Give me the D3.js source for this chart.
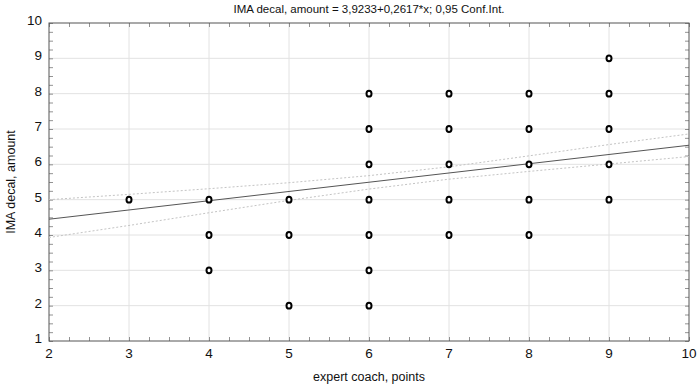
<!DOCTYPE html>
<html>
<head>
<meta charset="utf-8">
<script src="https://cdn.jsdelivr.net/npm/d3@7"></script>
<style>
  body { margin: 0; background: #fff; }
  text { font-family: "Liberation Sans", Arial, sans-serif; fill: #111; }
</style>
</head>
<body>
<div id="chart"></div>
<script>
// scatter data: expert coach points vs IMA decal amount
let xValues = [3, 4, 4, 4, 5, 5, 5, 6, 6, 6, 6, 6, 6, 6, 7, 7, 7, 7, 7, 8, 8, 8, 8, 8, 9, 9, 9, 9, 9];
let yValues = [5, 5, 4, 3, 5, 4, 2, 8, 7, 6, 5, 4, 3, 2, 8, 7, 6, 5, 4, 8, 7, 6, 5, 4, 9, 8, 7, 6, 5];

// regression line from the title
let intercept = 3.9233;
let slope = 0.2617;

// 0.95 confidence band
let bandX = [2, 3, 4, 5, 6, 7, 8, 9, 10];
let bandUpper = [5.00, 5.15, 5.31, 5.48, 5.68, 5.93, 6.24, 6.56, 6.86];
let bandLower = [3.93, 4.27, 4.63, 4.98, 5.30, 5.58, 5.80, 6.01, 6.22];

let xTicks = [2, 3, 4, 5, 6, 7, 8, 9, 10];
let yTicks = [1, 2, 3, 4, 5, 6, 7, 8, 9, 10];

let margin = {top: 23, right: 9, bottom: 44, left: 49};
let width = 698 - margin.left - margin.right;
let height = 385 - margin.top - margin.bottom;

let svg = d3.select("#chart").append("svg")
    .attr("width", 698)
    .attr("height", 385)
  .append("g")
    .attr("transform", "translate(" + margin.left + "," + margin.top + ")");

let x = d3.scaleLinear().domain([2, 10]).range([0, width]);
let y = d3.scaleLinear().domain([1, 10]).range([height, 0]);

// grid
svg.selectAll(".gx").data(xTicks.slice(1, -1)).enter().append("line")
    .attr("x1", d => x(d)).attr("x2", d => x(d))
    .attr("y1", 0).attr("y2", height)
    .style("stroke", "#e2e2e2").style("stroke-width", 1);
svg.selectAll(".gy").data(yTicks.slice(1, -1)).enter().append("line")
    .attr("y1", d => y(d)).attr("y2", d => y(d))
    .attr("x1", 0).attr("x2", width)
    .style("stroke", "#e2e2e2").style("stroke-width", 1);

// minor ticks on all four sides, pointing inwards
let xMinor = d3.range(2, 10.001, 0.25);
let yMinor = d3.range(1, 10.001, 0.25);
let tickColor = "#777";
svg.append("g").call(d3.axisBottom(x).tickValues(xMinor).tickSize(-4).tickFormat(""))
    .attr("transform", `translate(0,${height})`);
svg.append("g").call(d3.axisTop(x).tickValues(xMinor).tickSize(-4).tickFormat(""));
svg.append("g").call(d3.axisLeft(y).tickValues(yMinor).tickSize(-4).tickFormat(""));
svg.append("g").call(d3.axisRight(y).tickValues(yMinor).tickSize(-4).tickFormat(""))
    .attr("transform", `translate(${width},0)`);
svg.selectAll(".domain").remove();
svg.selectAll(".tick line").style("stroke", tickColor).style("stroke-width", 0.8);

// frame
svg.append("rect")
    .attr("width", width).attr("height", height)
    .style("fill", "none").style("stroke", "#555").style("stroke-width", 1);

// tick labels
svg.selectAll(".xl").data(xTicks).enter().append("text")
    .attr("x", d => x(d)).attr("y", height + 17)
    .attr("text-anchor", "middle")
    .style("font-size", "13.5px")
    .text(d => d);
svg.selectAll(".yl").data(yTicks).enter().append("text")
    .attr("x", -7).attr("y", d => y(d) + 2)
    .attr("text-anchor", "end")
    .style("font-size", "13.5px")
    .text(d => d);

// confidence band
let band = d3.line().x(d => x(d[0])).y(d => y(d[1]));
[bandUpper, bandLower].forEach(vals => {
  svg.append("path")
      .attr("d", band(bandX.map((v, i) => [v, vals[i]])))
      .style("fill", "none")
      .style("stroke", "#c4c4c4")
      .style("stroke-width", 1)
      .style("stroke-dasharray", "2,2");
});

// regression line
svg.append("line")
    .attr("x1", x(2)).attr("y1", y(intercept + slope * 2))
    .attr("x2", x(10)).attr("y2", y(intercept + slope * 10))
    .style("stroke", "#555").style("stroke-width", 1);

// points
svg.selectAll(".pt").data(xValues).enter().append("ellipse")
    .attr("cx", d => x(d))
    .attr("cy", (d, i) => y(yValues[i]))
    .attr("rx", 2.5)
    .attr("ry", 2.9)
    .style("fill", "#fff")
    .style("stroke", "#000")
    .style("stroke-width", 2);

// title and axis labels
svg.append("text")
    .attr("x", width / 2).attr("y", -10)
    .attr("text-anchor", "middle")
    .style("font-size", "11.5px")
    .text("IMA decal, amount = 3,9233+0,2617*x; 0,95 Conf.Int.");
svg.append("text")
    .attr("x", width / 2).attr("y", height + 40)
    .attr("text-anchor", "middle")
    .style("font-size", "12.5px")
    .text("expert coach, points");
svg.append("text")
    .attr("transform", `translate(${-34},${height / 2}) rotate(-90)`)
    .attr("text-anchor", "middle")
    .style("font-size", "12.5px")
    .text("IMA decal, amount");
</script>
</body>
</html>
